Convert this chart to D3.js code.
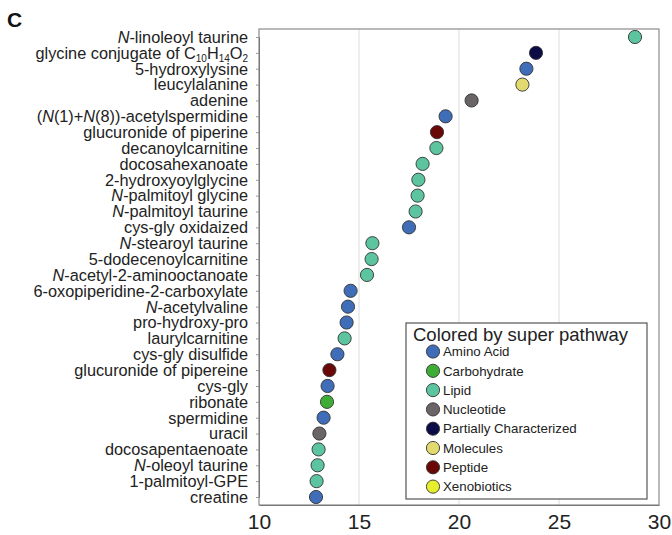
<!DOCTYPE html>
<html>
<head>
<meta charset="utf-8">
<script src="https://cdnjs.cloudflare.com/ajax/libs/d3/7.8.5/d3.min.js"></script>
<style>
  body { margin: 0; background: #fff; }
  svg { font-family: Arial, "Liberation Sans", sans-serif; }
</style>
</head>
<body>
<div id="chart"></div>
<script>
// metabolite labels: *x* = italic, _x = subscript
var metabolites = [
  "*N*-linoleoyl taurine",
  "glycine conjugate of C_10H_14O_2",
  "5-hydroxylysine",
  "leucylalanine",
  "adenine",
  "(*N*(1)+*N*(8))-acetylspermidine",
  "glucuronide of piperine",
  "decanoylcarnitine",
  "docosahexanoate",
  "2-hydroxyoylglycine",
  "*N*-palmitoyl glycine",
  "*N*-palmitoyl taurine",
  "cys-gly oxidaized",
  "*N*-stearoyl taurine",
  "5-dodecenoylcarnitine",
  "*N*-acetyl-2-aminooctanoate",
  "6-oxopiperidine-2-carboxylate",
  "*N*-acetylvaline",
  "pro-hydroxy-pro",
  "laurylcarnitine",
  "cys-gly disulfide",
  "glucuronide of pipereine",
  "cys-gly",
  "ribonate",
  "spermidine",
  "uracil",
  "docosapentaenoate",
  "*N*-oleoyl taurine",
  "1-palmitoyl-GPE",
  "creatine"
];
var values = [28.8, 23.85, 23.37, 23.17, 20.63, 19.33, 18.9, 18.87, 18.18, 17.97,
              17.93, 17.83, 17.5, 15.67, 15.63, 15.4, 14.58, 14.45, 14.38, 14.28,
              13.92, 13.52, 13.43, 13.4, 13.23, 13.02, 12.98, 12.93, 12.88, 12.85];
var pathways = ["Lipid", "Partially Characterized", "Amino Acid", "Molecules", "Nucleotide",
                "Amino Acid", "Peptide", "Lipid", "Lipid", "Lipid",
                "Lipid", "Lipid", "Amino Acid", "Lipid", "Lipid",
                "Lipid", "Amino Acid", "Amino Acid", "Amino Acid", "Lipid",
                "Amino Acid", "Peptide", "Amino Acid", "Carbohydrate", "Amino Acid",
                "Nucleotide", "Lipid", "Lipid", "Lipid", "Amino Acid"];

var legendNames = ["Amino Acid", "Carbohydrate", "Lipid", "Nucleotide",
                   "Partially Characterized", "Molecules", "Peptide", "Xenobiotics"];
var legendColors = ["#3f6db8", "#3dad36", "#5cc49f", "#6a6466",
                    "#0b0b45", "#e2da6e", "#6a0707", "#e6ef2e"];
var xTicks = [10, 15, 20, 25, 30];

var W = 672, H = 535;
var margin = {top: 29, right: 13, bottom: 30, left: 259};
var pw = W - margin.left - margin.right;
var ph = H - margin.top - margin.bottom;

var svg = d3.select("#chart").append("svg")
  .attr("width", W).attr("height", H);

svg.append("text")
  .attr("x", 7).attr("y", 27)
  .attr("font-size", 21).attr("font-weight", "bold")
  .attr("fill", "#111")
  .text("C");

var g = svg.append("g").attr("transform", "translate(" + margin.left + "," + margin.top + ")");

var x = d3.scaleLinear().domain([10, 30]).range([0, pw]);
var y = d3.scalePoint().domain(d3.range(metabolites.length)).range([8, ph - 8]);
var color = d3.scaleOrdinal().domain(legendNames).range(legendColors);

// gridlines
g.selectAll(".grid")
  .data(xTicks.slice(1, -1))
  .enter().append("line")
  .attr("x1", d => x(d)).attr("x2", d => x(d))
  .attr("y1", 0).attr("y2", ph)
  .attr("stroke", "#dcdcdc").attr("stroke-width", 1);

// frame
g.append("rect")
  .attr("width", pw).attr("height", ph)
  .attr("fill", "none").attr("stroke", "#8a8a8a").attr("stroke-width", 1.2);

// x axis
var xAxis = g.append("g")
  .attr("transform", "translate(0," + ph + ")")
  .call(d3.axisBottom(x).tickValues(xTicks).tickSize(0).tickPadding(9));
xAxis.select(".domain").attr("stroke", "#777");
xAxis.selectAll("text").attr("font-size", 21).attr("fill", "#222")
  .attr("font-family", "Arial, 'Liberation Sans', sans-serif");

// y axis
var yAxis = g.append("g")
  .call(d3.axisLeft(y).tickSize(3).tickPadding(8).tickFormat(""));
yAxis.select(".domain").attr("stroke", "#777");
yAxis.selectAll(".tick line").attr("stroke", "#999");

// rich labels
function addLabel(sel, str) {
  var re = /\*([^*]+)\*|_(\d+)|([^*_]+)/g, m;
  while ((m = re.exec(str)) !== null) {
    if (m[1]) sel.append("tspan").attr("font-style", "italic").text(m[1]);
    else if (m[2]) sel.append("tspan").attr("font-size", 10).attr("baseline-shift", "-28%").text(m[2]);
    else sel.append("tspan").text(m[3]);
  }
}
g.selectAll(".ylab")
  .data(metabolites)
  .enter().append("text")
  .attr("x", -11)
  .attr("y", (d, i) => y(i))
  .attr("dy", "0.36em")
  .attr("text-anchor", "end")
  .attr("font-size", 16.3)
  .attr("fill", "#222")
  .each(function(d) { addLabel(d3.select(this), d); });

// points
g.selectAll(".dot")
  .data(values)
  .enter().append("circle")
  .attr("cx", d => x(d))
  .attr("cy", (d, i) => y(i))
  .attr("r", 6.6)
  .attr("fill", (d, i) => color(pathways[i]))
  .attr("stroke", "#333").attr("stroke-width", 0.9);

// legend
var lg = svg.append("g").attr("transform", "translate(406,323)");
lg.append("rect")
  .attr("width", 241).attr("height", 176)
  .attr("fill", "#fff").attr("stroke", "#555").attr("stroke-width", 1.2);
lg.append("text")
  .attr("x", 7).attr("y", 18)
  .attr("font-size", 18.5).attr("fill", "#222")
  .text("Colored by super pathway");
var items = lg.selectAll(".item")
  .data(legendNames)
  .enter().append("g")
  .attr("transform", (d, i) => "translate(27," + (28.5 + i * 19.3) + ")");
items.append("circle")
  .attr("r", 6.6)
  .attr("fill", d => color(d))
  .attr("stroke", "#333").attr("stroke-width", 0.9);
items.append("text")
  .attr("x", 10).attr("dy", "0.36em")
  .attr("font-size", 13.3).attr("fill", "#222")
  .text(d => d);
</script>
</body>
</html>
